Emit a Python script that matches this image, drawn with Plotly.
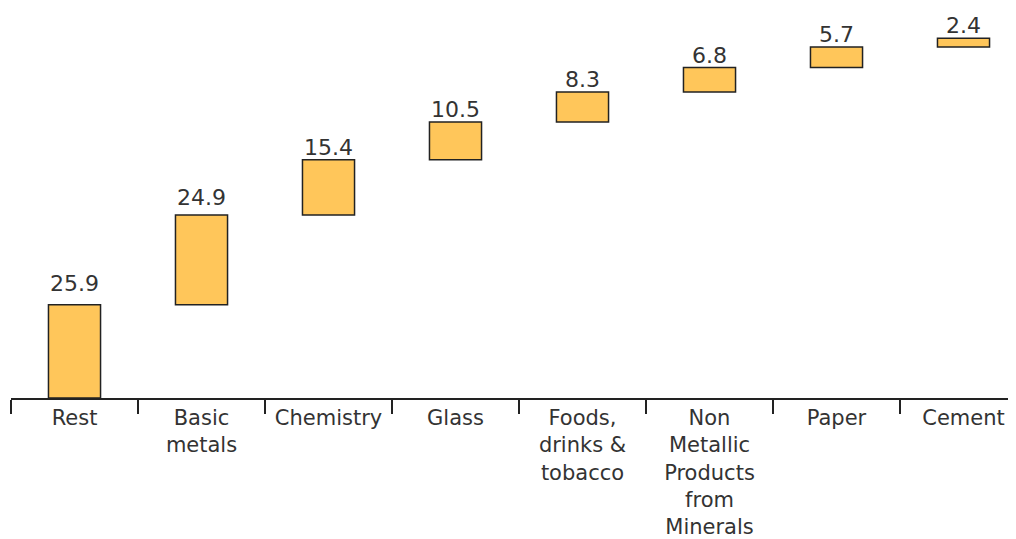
import plotly.graph_objects as go
import numpy as np

categories = ["Rest", "Basic<br>metals", "Chemistry", "Glass", "Foods,<br>drinks &<br>tobacco",
              "Non<br>Metallic<br>Products<br>from<br>Minerals", "Paper", "Cement"]
values = [25.9, 24.9, 15.4, 10.5, 8.3, 6.8, 5.7, 2.4]
labels = ["25.9", "24.9", "15.4", "10.5", "8.3", "6.8", "5.7", "2.4"]

# style: vertical pixel offset of each value label above its bar
label_shift = [7, 3, -2, -2, -2, -2, -2, -2]

FONT = "DejaVu Sans"
TXT = "#333333"

fig = go.Figure()
fig.add_trace(go.Waterfall(
    x=categories,
    y=values,
    measure=["relative"] * len(values),
    increasing=dict(marker=dict(color="#FFC65A", line=dict(color="#222222", width=1.5))),
    connector=dict(visible=False),
    width=[0.41] * len(values),
    hoverinfo="skip",
    showlegend=False,
))

cum = np.cumsum(values)
for c, top, lab, sh in zip(categories, cum, labels, label_shift):
    fig.add_annotation(x=c, y=top, text=lab, showarrow=False, yanchor="bottom",
                       yshift=sh, font=dict(family=FONT, size=22, color=TXT))

fig.update_layout(
    width=1008, height=531,
    margin=dict(l=3, r=0, t=0, b=141),
    plot_bgcolor="white", paper_bgcolor="white",
    font=dict(family=FONT, size=21, color=TXT),
    xaxis=dict(
        type="category",
        range=[-0.5, -0.5 + 1005 / 127],
        showline=True, linecolor="#222222", linewidth=1.5,
        ticks="outside", tickson="boundaries", ticklen=14, tickcolor="#222222", tickwidth=1.5,
        showgrid=False, zeroline=False,
        tickfont=dict(family=FONT, size=21, color=TXT),
    ),
    yaxis=dict(
        range=[0, 390 / 3.6],
        visible=False, showgrid=False, zeroline=False,
    ),
)

fig.write_html("out.html")
